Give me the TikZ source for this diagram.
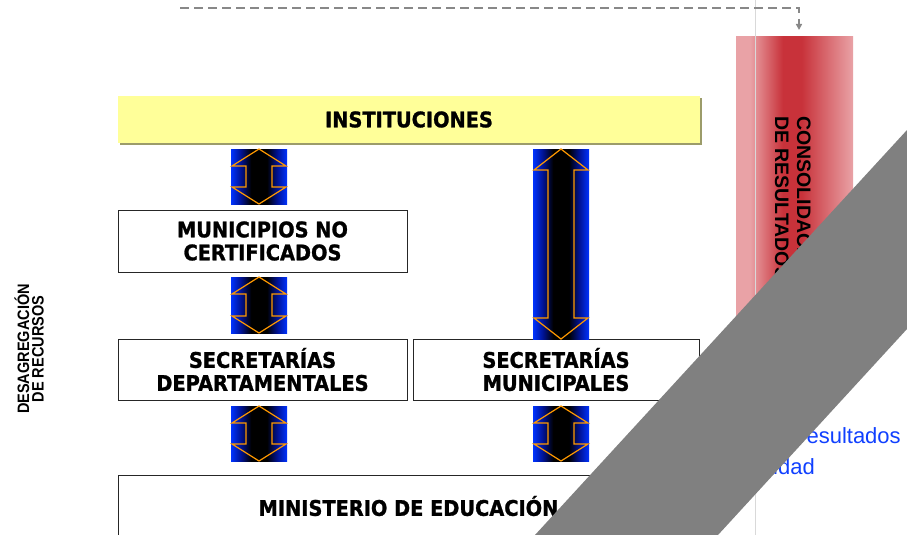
\documentclass[tikz,border=0pt]{standalone}
\usepackage{fontspec}
\setmainfont{Liberation Sans}
\newfontfamily\boxfont[FakeStretch=0.9, BoldFeatures={FakeBold=1.2}]{DejaVu Sans}
\newfontfamily\sidefont[FakeStretch=0.88]{Liberation Sans}
\usetikzlibrary{calc,arrows.meta,shadows}

\definecolor{ybox}{HTML}{FFFF99}
\definecolor{yshadow}{HTML}{9C9C6A}
\definecolor{abblue}{HTML}{0033FF}
\definecolor{abdark}{HTML}{001290}
\definecolor{aorange}{HTML}{FF9900}
\definecolor{rbar}{HTML}{C8323A}
\definecolor{rpink}{HTML}{E9A2A6}
\definecolor{btext}{HTML}{1040FF}
\definecolor{gband}{HTML}{808080}
\definecolor{dashgray}{HTML}{888888}

\pgfdeclarehorizontalshading{bbarshade}{100bp}{color(0bp)=(abblue); color(25bp)=(abblue); color(34bp)=(abdark); color(43bp)=(black); color(57bp)=(black); color(66bp)=(abdark); color(75bp)=(abblue); color(100bp)=(abblue)}
\pgfdeclarehorizontalshading{rbarshade}{100bp}{color(0bp)=(rpink); color(25bp)=(rpink); color(31bp)=(rpink); color(45bp)=(rbar); color(53bp)=(rbar); color(75bp)=(rpink); color(100bp)=(rpink)}

\tikzset{
  boxtxt/.style={font=\boxfont\bfseries\fontsize{21.5}{23}\selectfont, align=center, text=black},
  whitebox/.style={boxtxt, draw=black!85, line width=1pt, fill=white, inner sep=0pt, outer sep=0pt},
  yellowbox/.style={boxtxt, fill=ybox, inner sep=0pt, outer sep=0pt,
     drop shadow={shadow xshift=2pt, shadow yshift=-2pt, fill=yshadow, opacity=1}},
  bluebar/.style={shade, shading=bbarshade, minimum width=56pt, inner sep=0pt, outer sep=0pt},
  oarrow/.style={draw=aorange, line width=1.2pt, line join=miter},
  sidetxt/.style={font=\sidefont\bfseries\fontsize{16.5}{15}\selectfont, inner sep=0pt},
  constxt/.style={font=\bfseries\fontsize{19.5}{22}\selectfont, inner sep=0pt},
  bluetxt/.style={font=\fontsize{22}{24}\selectfont, text=btext, inner sep=0pt},
}

\newcommand\bidir[2]{%
  \draw[oarrow] (#1.north) -- ++(27,#2) -- ++(-14,0) -- ($(#1.south)+(13,-#2)$) -- ++(14,0)
    -- (#1.south) -- ++(-27,-#2) -- ++(14,0) -- ($(#1.north)+(-13,#2)$) -- ++(-14,0) -- cycle;}

\begin{document}
\begin{tikzpicture}[x=1pt,y=-1pt]
\useasboundingbox (0,0) rectangle (907,535);
\fill[white] (0,0) rectangle (907,535);

% red consolidation bar
\node[shade, shading=rbarshade, minimum width=117pt, minimum height=333pt, inner sep=0pt, outer sep=0pt, anchor=north west] (cons) at (736,37) {};
\node[constxt, rotate=-90, anchor=base west] (cons1) at (797,116) {CONSOLIDACIÓN};
\node[constxt, rotate=-90, anchor=base west] (cons2) at (775,116) {DE RESULTADOS};

% thin vertical guide line
\coordinate (vtop) at (755,0);
\coordinate (vbot) at (755,535);
\draw[black!15, line width=0.8pt] (vtop) -- (vbot);

% dashed connector
\coordinate (dstart) at (180,8);
\coordinate (dend) at (799,30);
\draw[dashgray, line width=2pt, dash pattern=on 8.5pt off 5.5pt, -{Triangle[length=6pt,width=6pt]}] (dstart) -| (dend);

% boxes
\node[yellowbox, minimum width=582pt, minimum height=47pt, anchor=north west] (inst) at (118,96) {INSTITUCIONES};
\node[whitebox, minimum width=289pt, minimum height=62pt, anchor=north west] (mun) at (118,210) {MUNICIPIOS NO\\CERTIFICADOS};
\node[whitebox, minimum width=289pt, minimum height=61pt, anchor=north west] (sdep) at (118,339) {SECRETARÍAS\\DEPARTAMENTALES};
\node[whitebox, minimum width=286pt, minimum height=61pt, anchor=north west] (smun) at (413,339) {SECRETARÍAS\\MUNICIPALES};
\node[whitebox, minimum width=581pt, minimum height=62pt, anchor=north west] (min) at (118,475) {MINISTERIO DE EDUCACIÓN};

% double arrows
\node[bluebar, minimum height=55pt, anchor=north] (a1) at (259,149) {};
\bidir{a1}{17}
\node[bluebar, minimum height=56pt, anchor=north] (a2) at (259,277) {};
\bidir{a2}{17}
\node[bluebar, minimum height=190pt, anchor=north] (a3) at (561,149) {};
\bidir{a3}{21}
\node[bluebar, minimum height=55pt, anchor=north] (a4) at (259,406) {};
\bidir{a4}{17}
\node[bluebar, minimum height=55pt, anchor=north] (a5) at (561,406) {};
\bidir{a5}{17}

% left side label
\node[sidetxt, rotate=90, anchor=base] (des1) at (29,349) {DESAGREGACIÓN};
\node[sidetxt, rotate=90, anchor=base] (des2) at (43.5,349) {DE RECURSOS};

% blue text at right
\node[bluetxt, anchor=base west] (bt1) at (799,443) {resultados};
\node[bluetxt, anchor=base east] (bt2) at (815,474) {idad};

% gray band covering the corner
\fill[gband] (907,130) -- (535,535) -- (718,535) -- (907,329) -- cycle;
\end{tikzpicture}
\end{document}
